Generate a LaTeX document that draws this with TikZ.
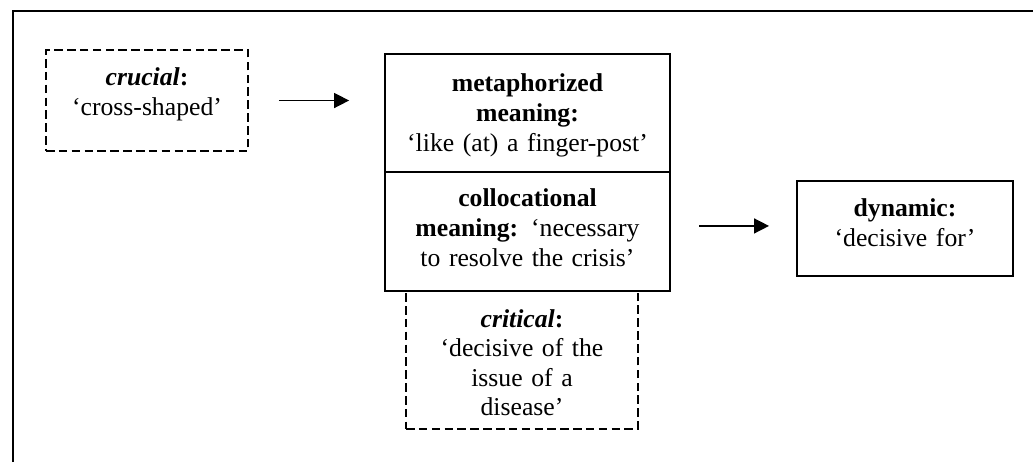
\documentclass[tikz,border=0pt]{standalone}
\usepackage{fontspec}
\setmainfont{Liberation Serif}
\usetikzlibrary{arrows.meta}
\begin{document}
\begin{tikzpicture}
[x=0.467pt, y=-0.467pt,
 box/.style={draw, line width=0.9pt, inner sep=0pt, align=center,
   font=\fontsize{12pt}{13.8pt}\selectfont},
 dbox/.style={box, dash pattern=on 4pt off 2pt},
 >={Triangle[length=7pt,width=7pt]}, line width=0.7pt]
\useasboundingbox (0,0) rectangle (1033,462);
\draw[line width=1.1pt] (13,462) -- (13,11) -- (1033,11);

\node (crucial) at (147,100.5) [dbox, text width=94.3pt, text height=16.8pt, text depth=30.4pt]
  {\textbf{\textit{crucial}:}\\`cross-shaped'};
\node (critical) at (522,360) [dbox, text width=108.3pt, text height=16.8pt, text depth=47.6pt]
  {\textbf{\textit{critical}:}\\`decisive of the\\issue of a\\disease'};
\node (meta) at (527.5,113) [box, text width=133.1pt, text height=17.7pt, text depth=37.4pt]
  {\textbf{metaphorized}\\\textbf{meaning:}\\`like (at) a finger-post'};
\node (colloc) at (527.5,231.5) [box, text width=133.1pt, text height=16.3pt, text depth=39.2pt]
  {\textbf{collocational}\\\textbf{meaning:} `necessary\\to resolve the crisis'};
\node (dynamic) at (905,228.5) [box, text width=100.9pt, text height=16.8pt, text depth=27.6pt]
  {\textbf{dynamic:}\\`decisive for'};

\draw[->, shorten <=14pt, shorten >=16.3pt] (crucial.east) -- (crucial.east -| meta.west);
\draw[->, shorten <=13.1pt, shorten >=12.6pt] ([yshift=1.2pt]colloc.east |- dynamic.west) -- ([yshift=1.2pt]dynamic.west);
\end{tikzpicture}
\end{document}
